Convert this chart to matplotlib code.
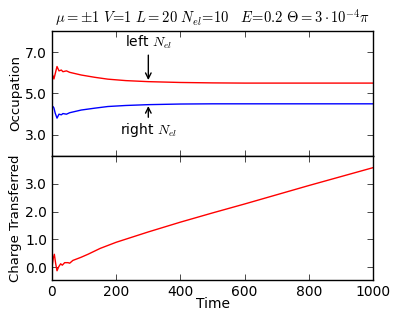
import matplotlib
matplotlib.use("Agg")
import matplotlib.pyplot as plt
from matplotlib.ticker import FormatStrFormatter

plt.rcParams["mathtext.fontset"] = "cm"
plt.rcParams["font.family"] = "DejaVu Sans"
plt.rcParams["font.size"] = 9

# occupation of the two halves
t_occ = [0, 3, 6, 10, 15.6, 21.8, 29, 34, 45, 55, 91, 133, 174, 230, 300, 400, 500, 600, 700, 800, 900, 1000]
left_n = [5.93, 5.85, 5.70, 5.95, 6.30, 6.09, 6.13, 6.05, 6.09, 6.02, 5.89, 5.78, 5.69, 5.62, 5.57, 5.53, 5.51, 5.50, 5.50, 5.50, 5.50, 5.50]
right_n = [4.29, 4.37, 4.30, 4.05, 3.81, 4.00, 3.97, 4.03, 4.00, 4.07, 4.20, 4.29, 4.37, 4.42, 4.46, 4.49, 4.50, 4.50, 4.50, 4.50, 4.50, 4.50]

# charge transferred
t_q = [0, 4, 7.3, 11.4, 15.6, 20.8, 27, 32, 39.5, 50, 55, 65, 90, 112, 150, 200, 300, 400, 500, 600, 700, 800, 900, 1000]
charge = [0.0, 0.33, 0.47, 0.14, -0.12, 0.02, 0.13, 0.08, 0.17, 0.17, 0.15, 0.25, 0.36, 0.47, 0.68, 0.90, 1.27, 1.62, 1.95, 2.27, 2.60, 2.93, 3.25, 3.57]

title = r"$\mu=\pm1\ V\!=\!1\ L=20\ N_{el}\!=\!10\quad E\!=\!0.2\ \Theta=3\cdot10^{-4}\pi$"

fig = plt.figure(figsize=(4.15, 3.12), dpi=100)
ax1 = fig.add_axes([0.1253, 0.5012, 0.7737, 0.3985])
ax2 = fig.add_axes([0.1253, 0.1026, 0.7737, 0.3986], sharex=ax1)

ax1.plot(t_occ, left_n, color="#ff0000", lw=1)
ax1.plot(t_occ, right_n, color="#0000ff", lw=1)
ax1.set_ylim(2, 8)
ax1.set_yticks([3, 5, 7])
ax1.yaxis.set_major_formatter(FormatStrFormatter("%.1f"))
ax1.set_ylabel("Occupation", fontsize=9.5, labelpad=2)
ax1.set_title(title, fontsize=10.5)
ax1.annotate(r"left $N_{el}$", xy=(300, 5.58), xytext=(300, 7.05), ha="center", va="bottom",
             fontsize=10, arrowprops=dict(arrowstyle="->", color="black", lw=1, shrinkA=1, shrinkB=1))
ax1.annotate(r"right $N_{el}$", xy=(300, 4.46), xytext=(300, 3.65), ha="center", va="top",
             fontsize=10, arrowprops=dict(arrowstyle="->", color="black", lw=1, shrinkA=1, shrinkB=1))
plt.setp(ax1.get_xticklabels(), visible=False)

ax2.plot(t_q, charge, color="#ff0000", lw=1)
ax2.set_ylim(-0.45, 4.0)
ax2.set_yticks([0, 1, 2, 3])
ax2.yaxis.set_major_formatter(FormatStrFormatter("%.1f"))
ax2.set_xlim(0, 1000)
ax2.set_xticks([0, 200, 400, 600, 800, 1000])
ax2.set_ylabel("Charge Transferred", fontsize=9.5, labelpad=2)
ax2.set_xlabel("Time", fontsize=10, labelpad=-1)

for ax in (ax1, ax2):
    ax.tick_params(direction="in", top=True, right=True, length=4, width=0.5, labelsize=10)
    for s in ax.spines.values():
        s.set_linewidth(1)

fig.savefig("out.png", dpi=100)
